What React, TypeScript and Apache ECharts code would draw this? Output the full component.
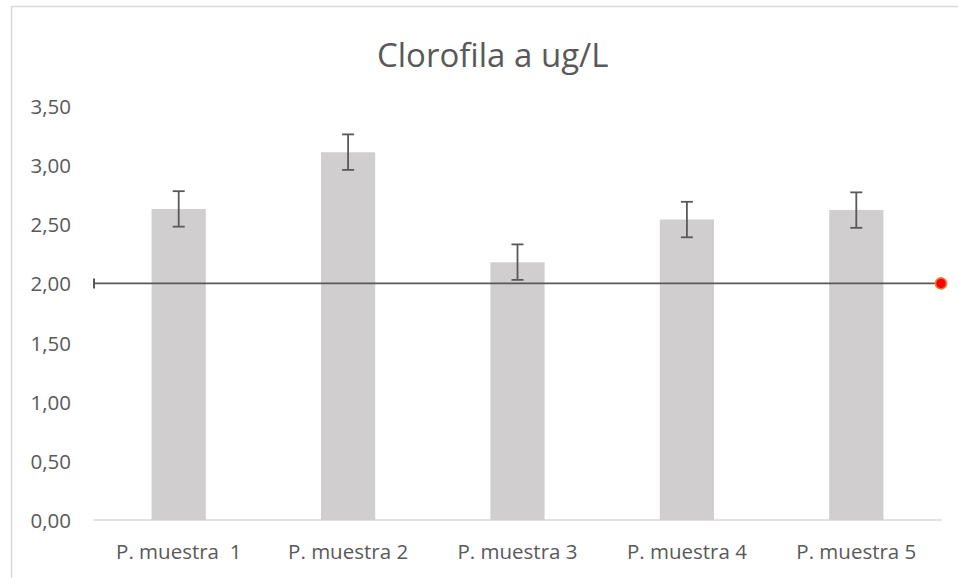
import React, { useEffect, useRef } from "react";
import * as echarts from "echarts";

const title = "Clorofila a ug/L";
const categories = ["P. muestra  1", "P. muestra 2", "P. muestra 3", "P. muestra 4", "P. muestra 5"];
const values = [2.63, 3.11, 2.18, 2.54, 2.62];
const errors = [0.15, 0.15, 0.15, 0.15, 0.15];
const referenceValue = 2.0;
const yTicks = { min: 0, max: 3.5, interval: 0.5 };

const FONT = "'Open Sans', sans-serif";

export default function App() {
  const ref = useRef<HTMLDivElement>(null);
  useEffect(() => {
    if (!ref.current) return;
    const chart = echarts.init(ref.current, null, { renderer: "svg" });
    const errData = values.map((v, i) => [i, v - errors[i], v + errors[i]]);
    chart.setOption({
      animation: false,
      backgroundColor: "#ffffff",
      title: {
        text: title,
        left: 372,
        top: 33,
        textStyle: { fontFamily: FONT, fontSize: 33, fontWeight: "normal", color: "#595959" },
      },
      graphic: [
        {
          type: "rect",
          shape: { x: 11.5, y: 6.5, width: 1000, height: 1000 },
          style: { fill: "none", stroke: "#D9D9D9", lineWidth: 1.5 },
          silent: true,
        },
      ],
      grid: { left: 94, right: 17, top: 106, bottom: 58, containLabel: false },
      xAxis: [
        {
          type: "category",
          data: categories,
          axisLine: { show: true, lineStyle: { color: "#D9D9D9", width: 1.5 } },
          axisTick: { show: false },
          axisLabel: { fontFamily: FONT, fontSize: 20.5, color: "#595959", margin: 20 },
        },
        {
          type: "value",
          min: 0,
          max: 1,
          show: false,
        },
      ],
      yAxis: {
        type: "value",
        min: yTicks.min,
        max: yTicks.max,
        interval: yTicks.interval,
        axisLine: { show: false },
        axisTick: { show: false },
        splitLine: { show: false },
        axisLabel: {
          fontFamily: FONT,
          fontSize: 20.5,
          color: "#595959",
          margin: 23,
          formatter: (v: number) => v.toFixed(2).replace(".", ","),
        },
      },
      series: [
        {
          type: "bar",
          data: values,
          barWidth: "32%",
          itemStyle: { color: "#D0CECE" },
          z: 1,
        },
        {
          type: "custom",
          data: errData,
          z: 3,
          renderItem: (params: any, api: any) => {
            const x = api.value(0);
            const lo = api.coord([x, api.value(1)]);
            const hi = api.coord([x, api.value(2)]);
            const half = 6;
            const style = { stroke: "#595959", lineWidth: 1.8 };
            return {
              type: "group",
              children: [
                { type: "line", shape: { x1: lo[0], y1: lo[1], x2: hi[0], y2: hi[1] }, style },
                { type: "line", shape: { x1: lo[0] - half, y1: lo[1], x2: lo[0] + half, y2: lo[1] }, style },
                { type: "line", shape: { x1: hi[0] - half, y1: hi[1], x2: hi[0] + half, y2: hi[1] }, style },
              ],
            };
          },
        },
        {
          type: "line",
          xAxisIndex: 1,
          z: 4,
          showAllSymbol: true,
          lineStyle: { color: "#595959", width: 1.8 },
          data: [
            {
              value: [0, referenceValue],
              symbol: "rect",
              symbolSize: [2, 10],
              itemStyle: { color: "#595959" },
            },
            {
              value: [1, referenceValue],
              symbol: "circle",
              symbolSize: 11,
              itemStyle: { color: "#FF0000", borderColor: "#ED7D31", borderWidth: 1.5 },
            },
          ],
        },
      ],
    });
    return () => chart.dispose();
  }, []);
  return (
    <div
      ref={ref}
      style={{ position: "absolute", left: 0, top: 0, width: 958, height: 578 }}
    />
  );
}
